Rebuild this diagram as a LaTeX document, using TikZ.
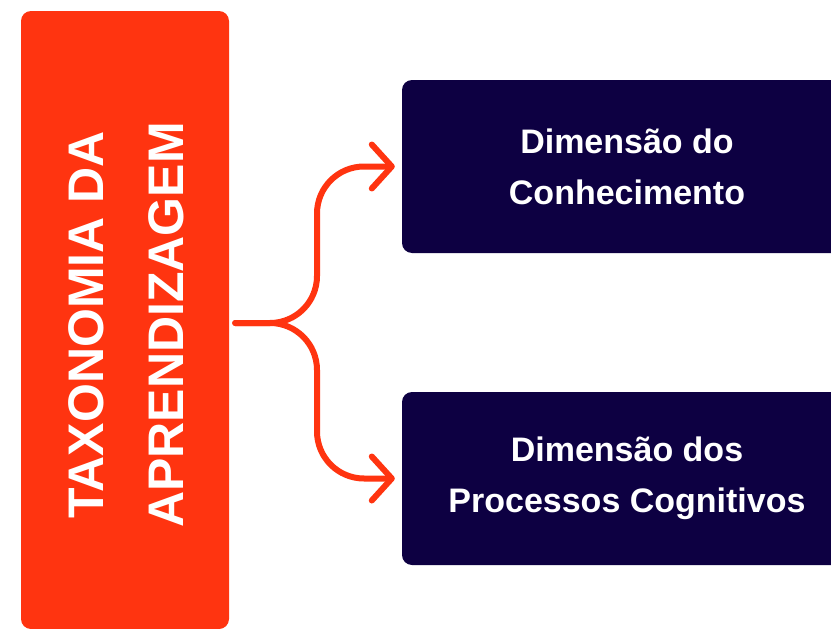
\documentclass[tikz,border=0pt]{standalone}
\usepackage{fontspec}
\setmainfont{Liberation Sans}
\usetikzlibrary{arrows.meta}
\definecolor{tred}{HTML}{FF3410}
\definecolor{tnavy}{HTML}{0D0042}
\tikzset{
  redbox/.style={fill=tred, rounded corners=10pt, minimum width=208pt, minimum height=618pt, inner sep=0pt},
  navybox/.style={fill=tnavy, rounded corners=10pt, minimum width=450pt, minimum height=173pt, inner sep=0pt,
    text=white, font=\bfseries\fontsize{34}{51}\selectfont, align=center},
  brace/.style={draw=tred, line width=6pt, rounded corners=47pt, line cap=round, line join=round,
    -{Straight Barb[length=20pt, width=44pt, line cap=round, line join=round]}, shorten <=6pt, shorten >=7pt}
}
\begin{document}
\begin{tikzpicture}[x=1pt, y=-1pt]
\clip (0,0) rectangle (831,629);
\fill[white] (0,0) rectangle (831,629);
\node[redbox] (tax) at (125,320) {};
\node[text=white, rotate=90, align=center, font=\bfseries\fontsize{50}{80}\selectfont] (taxt) at (126,325) {TAXONOMIA DA\\APRENDIZAGEM};
\node[navybox] (con) at (627,166.5) {Dimensão do\\Conhecimento};
\node[navybox] (pro) at (627,478.5) {Dimensão dos\\Processos Cognitivos};
\coordinate (j1) at (317,323);
\draw[brace] (tax.east |- 0,323) -- (j1) -- (j1 |- con.west) -- (con.west);
\draw[brace] (tax.east |- 0,323) -- (j1) -- (j1 |- pro.west) -- (pro.west);
\end{tikzpicture}
\end{document}
